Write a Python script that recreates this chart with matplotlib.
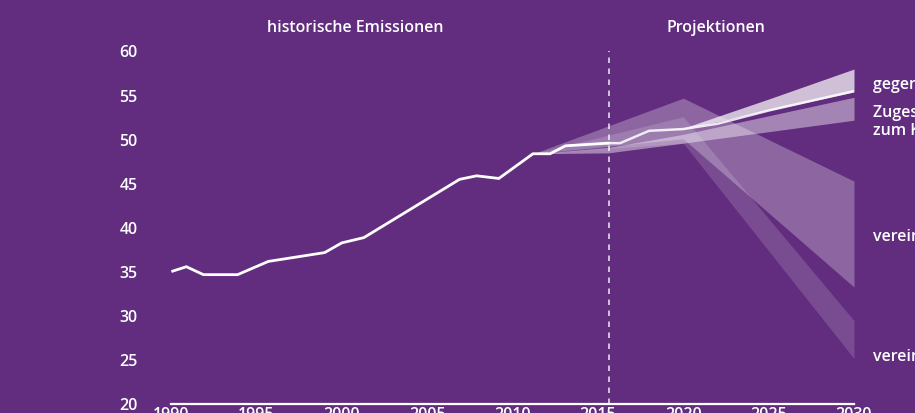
import matplotlib
matplotlib.use("Agg")
import matplotlib.pyplot as plt

# ---------------- data ----------------
hist_years = [1990.1, 1990.9, 1991.9, 1993.9, 1995.7, 1999.0, 2000.0, 2001.3,
              2006.9, 2007.9, 2009.2, 2011.2, 2012.2, 2013.1, 2015.6]
hist_values = [35.0, 35.5, 34.6, 34.6, 36.1, 37.1, 38.2, 38.8,
               45.4, 45.8, 45.5, 48.3, 48.3, 49.2, 49.5]

proj_years = [2015.6, 2016.3, 2018.0, 2020.0, 2022.0, 2025.0, 2030.0]
proj_values = [49.5, 49.5, 50.9, 51.1, 51.7, 53.2, 55.4]

cp_years = [2016.3, 2018.0, 2020.0, 2025.0, 2030.0]
cp_low = [49.5, 50.9, 51.1, 53.2, 55.3]
cp_high = [49.5, 50.9, 51.2, 54.5, 57.9]

ndc_years = [2011.2, 2015.6, 2020.0, 2030.0]
ndc_low = [48.3, 48.4, 49.5, 52.1]
ndc_high = [48.3, 49.0, 50.5, 54.7]

t2_years = [2011.2, 2020.0, 2030.0]
t2_low = [48.3, 50.0, 33.2]
t2_high = [48.3, 54.6, 45.2]

t15_years = [2011.2, 2020.0, 2030.0]
t15_low = [48.3, 49.5, 25.1]
t15_high = [48.3, 52.5, 29.4]

divider_year = 2015.65
x_ticks = [1990, 1995, 2000, 2005, 2010, 2015, 2020, 2025, 2030]
y_ticks = [20, 25, 30, 35, 40, 45, 50, 55, 60]

section_labels = ["historische Emissionen", "Projektionen"]
series_labels = ["gegenwärtige Politik", "Zugesagte Beiträge\nzum Klimaabkommen",
                 "vereinbar mit 2 °C", "vereinbar mit 1,5 °C"]

# ---------------- style ----------------
BG = "#622d7f"
FONT = ["Open Sans", "DejaVu Sans"]
plt.rcParams["font.family"] = FONT
WEIGHT = "semibold"
FS = 11.5

W, H = 915, 414
fig = plt.figure(figsize=(W / 100, H / 100), dpi=100, facecolor=BG)
# axes: 1990 -> 171px, 2030 -> 854px ; 20 -> 404.5px, 60 -> 51.5px (from top)
left, right = 171, 854
top60, bot20 = 51.5, 404.5
ax = fig.add_axes([left / W, (H - bot20) / H, (right - left) / W, (bot20 - top60) / H])
ax.set_facecolor(BG)
ax.set_xlim(1990, 2030)
ax.set_ylim(20, 60)

for s in ["top", "right", "left"]:
    ax.spines[s].set_visible(False)
ax.spines["bottom"].set_color("white")
ax.spines["bottom"].set_linewidth(1.6)

ax.set_xticks(x_ticks)
ax.set_yticks(y_ticks)
ax.tick_params(axis="both", length=0, colors="white", labelsize=FS)
ax.tick_params(axis="x", pad=1.5)
ax.tick_params(axis="y", pad=37)
for lab in ax.get_yticklabels():
    lab.set_horizontalalignment("left")
for lab in ax.get_xticklabels() + ax.get_yticklabels():
    lab.set_fontweight(WEIGHT)

# bands
ax.fill_between(t15_years, t15_low, t15_high, color="white", alpha=0.15, lw=0, zorder=2)
ax.fill_between(t2_years, t2_low, t2_high, color="white", alpha=0.27, lw=0, zorder=2)
ax.fill_between(ndc_years, ndc_low, ndc_high, color="white", alpha=0.42, lw=0, zorder=3)
ax.fill_between(cp_years, cp_low, cp_high, color="white", alpha=0.7, lw=0, zorder=4)

# lines
ax.plot(hist_years, hist_values, color="white", lw=2, zorder=6, solid_joinstyle="miter")
ax.plot(proj_years, proj_values, color="white", lw=1.8, zorder=6, alpha=0.85)

ax.axvline(divider_year, ymin=0, ymax=1.0, color="white", lw=1.1,
           dashes=(3.6, 3.6), zorder=7, alpha=0.9)

# section headings
ax.text(2000.8, 62.7, section_labels[0], color="white", fontsize=FS,
        fontweight=WEIGHT, ha="center", va="center", clip_on=False)
ax.text(2021.9, 62.7, section_labels[1], color="white", fontsize=FS,
        fontweight=WEIGHT, ha="center", va="center", clip_on=False)

# right labels
lab_x = 2031.1
ax.text(lab_x, 56.2, series_labels[0], color="white", fontsize=FS,
        fontweight=WEIGHT, ha="left", va="center", clip_on=False)
ax.text(lab_x, 52.05, series_labels[1], color="white", fontsize=FS,
        fontweight=WEIGHT, ha="left", va="center", clip_on=False, linespacing=1.15)
ax.text(lab_x, 39.0, series_labels[2], color="white", fontsize=FS,
        fontweight=WEIGHT, ha="left", va="center", clip_on=False)
ax.text(lab_x, 25.4, series_labels[3], color="white", fontsize=FS,
        fontweight=WEIGHT, ha="left", va="center", clip_on=False)

fig.savefig("out.png", dpi=100, facecolor=BG)
